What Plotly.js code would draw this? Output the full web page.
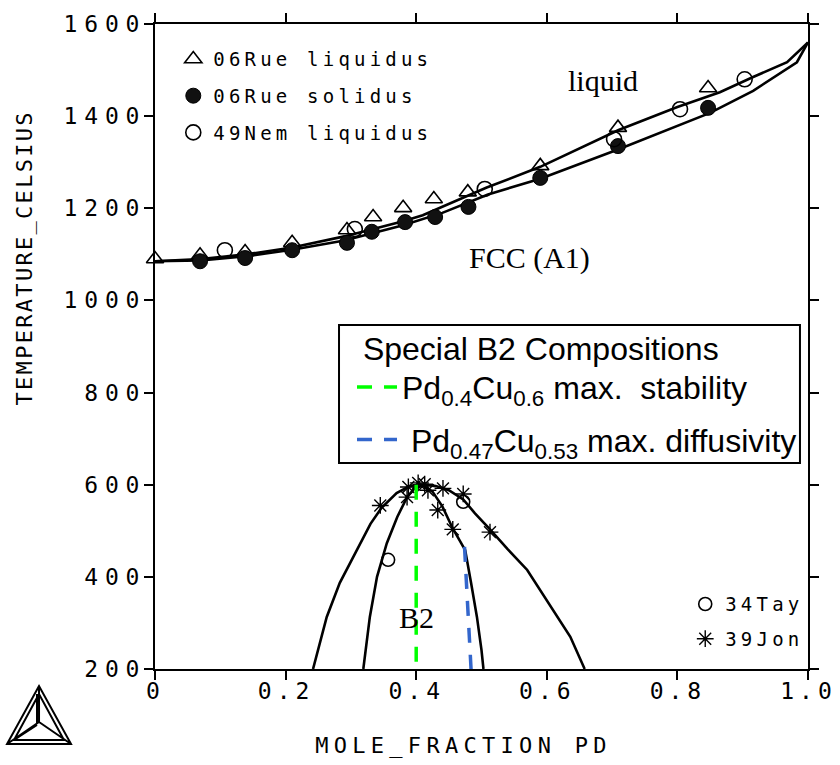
<!DOCTYPE html>
<html><head><meta charset="utf-8">
<script src="https://cdn.plot.ly/plotly-3.0.1.min.js"></script>
<style>
html,body{margin:0;padding:0;background:#fff;}
.legend2 *, .legend3 * { clip-path: none !important; }
</style>
</head><body>
<div id="chart" style="width:840px;height:765px;"></div>
<script>
// ---- axis ticks ----
const xTickVals = [0, 0.2, 0.4, 0.6, 0.8, 1.0];
const xTickText = ['0', '0.2', '0.4', '0.6', '0.8', '1.0'];
const yTickVals = [200, 400, 600, 800, 1000, 1200, 1400, 1600];
const yTickText = ['200', '400', '600', '800', '1000', '1200', '1400', '1600'];

// ---- calculated phase boundaries ----
const liquidusX = [0, 0.07, 0.14, 0.21, 0.29, 0.38, 0.41, 0.46, 0.508, 0.59, 0.71, 0.80, 0.865, 0.916, 0.968, 1.0];
const liquidusT = [1085, 1090, 1100, 1115, 1139, 1172, 1185, 1215, 1245, 1290, 1370, 1420, 1452, 1485, 1517, 1560];
const solidusX = [0, 0.07, 0.14, 0.21, 0.29, 0.38, 0.44, 0.51, 0.59, 0.71, 0.85, 0.916, 0.983, 1.0];
const solidusT = [1085, 1087, 1096, 1110, 1130, 1163, 1190, 1230, 1264, 1328, 1407, 1455, 1517, 1560];
const outerB2X = [0.242, 0.263, 0.283, 0.309, 0.33, 0.347, 0.37, 0.39, 0.405, 0.43, 0.45, 0.472, 0.49, 0.513, 0.54, 0.57, 0.61, 0.636, 0.658];
const outerB2T = [200, 313, 387, 458, 515, 550, 582, 597, 601, 597, 588, 568, 538, 503, 460, 415, 328, 270, 200];
const innerB2X = [0.319, 0.329, 0.340, 0.355, 0.371, 0.386, 0.398, 0.41, 0.425, 0.44, 0.456, 0.475, 0.484, 0.493, 0.500, 0.503];
const innerB2T = [200, 313, 400, 473, 530, 573, 593, 598, 585, 553, 505, 458, 387, 313, 241, 200];

// ---- experimental data ----
const rueLiqX = [0, 0.069, 0.138, 0.21, 0.294, 0.334, 0.38, 0.427, 0.479, 0.59, 0.709, 0.847];
const rueLiqT = [1090, 1098, 1105, 1125, 1153, 1181, 1201, 1220, 1235, 1292, 1375, 1461];
const rueSolX = [0.069, 0.138, 0.21, 0.294, 0.332, 0.383, 0.429, 0.48, 0.59, 0.709, 0.847];
const rueSolT = [1085, 1092, 1109, 1125, 1149, 1170, 1181, 1203, 1266, 1335, 1418];
const nemLiqX = [0.107, 0.306, 0.505, 0.703, 0.804, 0.903];
const nemLiqT = [1109, 1155, 1242, 1350, 1415, 1480];
const tayX = [0.357, 0.472];
const tayT = [437, 563];
const jonX = [0.345, 0.386, 0.388, 0.403, 0.413, 0.418, 0.433, 0.441, 0.456, 0.472, 0.513];
const jonT = [555, 573, 595, 604, 601, 588, 545, 592, 503, 580, 497];

// ---- special B2 compositions ----
const stabX = [0.40, 0.40];
const stabT = [600, 200];
const diffX = [0.474, 0.484];
const diffT = [465, 200];

const mono = 'DejaVu Sans Mono';
const serif = 'Liberation Serif, Times New Roman, serif';
const sans = 'Liberation Sans, Arial, sans-serif';

const curveLine = {color: '#000', width: 2.6};
const traces = [
  {x: liquidusX, y: liquidusT, mode: 'lines', line: curveLine, showlegend: false, hoverinfo: 'skip'},
  {x: solidusX, y: solidusT, mode: 'lines', line: curveLine, showlegend: false, hoverinfo: 'skip'},
  {x: outerB2X, y: outerB2T, mode: 'lines', line: curveLine, showlegend: false, hoverinfo: 'skip'},
  {x: innerB2X, y: innerB2T, mode: 'lines', line: curveLine, showlegend: false, hoverinfo: 'skip'},
  {x: rueLiqX, y: rueLiqT, mode: 'markers', name: '06Rue liquidus', legend: 'legend2', legendgroup: 'a', cliponaxis: false,
   marker: {symbol: 'triangle-up-open', size: 15, color: '#000', line: {width: 1.6, color: '#000'}}},
  {x: rueSolX, y: rueSolT, mode: 'markers', name: '06Rue solidus', legend: 'legend2', legendgroup: 'b', cliponaxis: false,
   marker: {symbol: 'circle', size: 15, color: '#111', line: {width: 1, color: '#000'}}},
  {x: nemLiqX, y: nemLiqT, mode: 'markers', name: '49Nem liquidus', legend: 'legend2', legendgroup: 'c', cliponaxis: false,
   marker: {symbol: 'circle-open', size: 15, color: '#000', line: {width: 1.6, color: '#000'}}},
  {x: tayX, y: tayT, mode: 'markers', name: '34Tay', legend: 'legend3', legendgroup: 'd', cliponaxis: false,
   marker: {symbol: 'circle-open', size: 13, color: '#000', line: {width: 1.6, color: '#000'}}},
  {x: jonX, y: jonT, mode: 'markers', name: '39Jon', legend: 'legend3', legendgroup: 'e', cliponaxis: false,
   marker: {symbol: 'asterisk-open', size: 14, color: '#000', line: {width: 1.4, color: '#000'}}},
  {x: stabX, y: stabT, mode: 'lines', name: 'Pd<sub>0.4</sub>Cu<sub>0.6</sub> max.\u00a0 stability', legend: 'legend', legendgroup: 'f',
   line: {color: '#00ff00', width: 3.5, dash: '15px,12px'}},
  {x: diffX, y: diffT, mode: 'lines', name: '\u00a0Pd<sub>0.47</sub>Cu<sub>0.53</sub> max. diffusivity', legend: 'legend', legendgroup: 'g',
   line: {color: '#3366cc', width: 3.5, dash: '15px,12px'}}
];

// pixel -> paper helper for decorations only (logo, legend frame)
const PL = 155, PW = 653, PB = 669, PH = 645;
function P(px, py) { return ((px - PL) / PW).toFixed(4) + ',' + ((PB - py) / PH).toFixed(4); }
const logoPath =
  'M' + P(39, 686) + 'L' + P(7, 744) + 'L' + P(71, 744) + 'Z ' +
  'M' + P(39, 694) + 'L' + P(14, 740) + 'L' + P(64, 740) + 'Z ' +
  'M' + P(39, 686) + 'L' + P(39, 722) + ' M' + P(7, 744) + 'L' + P(39, 722) + ' M' + P(71, 744) + 'L' + P(39, 722) +
  ' M' + P(37, 694) + 'L' + P(37, 724) + ' M' + P(14, 740) + 'L' + P(37, 725);

const layout = {
  width: 840, height: 765,
  margin: {l: 155, r: 32, t: 24, b: 96},
  paper_bgcolor: '#fff', plot_bgcolor: '#fff',
  showlegend: true,
  font: {family: mono, color: '#000', size: 18},
  xaxis: {
    range: [0, 1], tickvals: xTickVals, ticktext: xTickText,
    showgrid: false, zeroline: false, showline: true, linecolor: '#000', linewidth: 2, mirror: 'ticks',
    ticks: 'outside', ticklen: 9, tickwidth: 2, tickcolor: '#000', ticklabelstandoff: -4,
    tickfont: {family: mono, size: 23, color: '#000'},
    title: {text: 'MOLE_FRACTION PD', font: {family: mono, size: 22, color: '#000'}, standoff: 30}
  },
  yaxis: {
    range: [200, 1600], tickvals: yTickVals, ticktext: yTickText,
    showgrid: false, zeroline: false, showline: true, linecolor: '#000', linewidth: 2, mirror: 'ticks',
    ticks: 'outside', ticklen: 9, tickwidth: 2, tickcolor: '#000',
    tickfont: {family: mono, size: 23, color: '#000'}
  },
  legend: {
    x: 0.3017, y: 0.5442, xanchor: 'left', yanchor: 'top',
    bgcolor: 'rgba(0,0,0,0)', borderwidth: 0,
    font: {family: sans, size: 32, color: '#000'},
    title: {text: '\u00a0Special B2 Compositions', font: {family: sans, size: 32, color: '#000'}},
    traceorder: 'grouped', tracegroupgap: 8, itemwidth: 40
  },
  legend2: {
    x: 0.028, y: 0.975, xanchor: 'left', yanchor: 'top',
    bgcolor: 'rgba(0,0,0,0)', borderwidth: 0,
    font: {family: mono, size: 19, color: '#000'},
    traceorder: 'grouped', tracegroupgap: 9, itemwidth: 30
  },
  legend3: {
    x: 0.812, y: 0.13, xanchor: 'left', yanchor: 'top',
    bgcolor: 'rgba(0,0,0,0)', borderwidth: 0,
    font: {family: mono, size: 19, color: '#000'},
    traceorder: 'grouped', tracegroupgap: 7, itemwidth: 30
  },
  annotations: [
    {text: 'TEMPERATURE_CELSIUS', xref: 'paper', yref: 'paper', x: -0.199, y: 0.636, textangle: -90,
     showarrow: false, xanchor: 'center', yanchor: 'middle', font: {family: mono, size: 22, color: '#000'}},
    {text: 'liquid', x: 0.686, y: 1478, showarrow: false, font: {family: serif, size: 30, color: '#000'}},
    {text: 'FCC (A1)', x: 0.574, y: 1092, showarrow: false, font: {family: serif, size: 30, color: '#000'}},
    {text: 'B2', x: 0.401, y: 311, showarrow: false, font: {family: serif, size: 30, color: '#000'}}
  ],
  shapes: [
    {type: 'path', xref: 'paper', yref: 'paper', path: logoPath, line: {color: '#000', width: 2}},
    {type: 'rect', xref: 'paper', yref: 'paper', x0: 0.2818, x1: 0.9877, y0: 0.3194, y1: 0.5333,
     line: {color: '#000', width: 2}, fillcolor: '#fff'}
  ]
};

const spacingRules = {
  '06Rue liquidus': [4.2, null], '06Rue solidus': [4.2, null], '49Nem liquidus': [4.2, null],
  '34Tay': [4.2, null], '39Jon': [4.2, null],
  'TEMPERATURE_CELSIUS': [2.3, 1.2],
  'MOLE_FRACTION PD': [5.3, -18]
};
function applySpacing(gd) {
  function sp(t, px, dx) {
    if (t.style.letterSpacing !== px + 'px') t.style.letterSpacing = px + 'px';
    if (dx !== null && t.getAttribute('dx') !== dx.toFixed(1)) t.setAttribute('dx', dx.toFixed(1));
  }
  Array.prototype.forEach.call(gd.querySelectorAll('.xtick text'), function (t) {
    sp(t, 5, 0.5);
    if (!t.hasAttribute('data-dy0')) {
      var d = t.getAttribute('dy') || '0';
      t.setAttribute('data-dy0', d);
      var base = /em$/.test(d) ? parseFloat(d) * 23 : (parseFloat(d) || 0);
      t.setAttribute('dy', (base - 5).toFixed(1));
    }
  });
  Array.prototype.forEach.call(gd.querySelectorAll('.ytick text'), function (t) { sp(t, 6.8, 6.8); });
  Array.prototype.forEach.call(gd.querySelectorAll('text'), function (t) {
    var key = t.textContent.replace(/\u00a0/g, ' ');
    var r = spacingRules[key];
    if (r) sp(t, r[0], r[1]);
  });
  Array.prototype.forEach.call(gd.querySelectorAll('.legend2 [clip-path], .legend3 [clip-path]'), function (el) {
    el.removeAttribute('clip-path');
  });
}

Plotly.newPlot('chart', traces, layout, {displayModeBar: false, staticPlot: true}).then(function (gd) {
  applySpacing(gd);
  var obs = new MutationObserver(function () { applySpacing(gd); });
  obs.observe(gd, {childList: true, subtree: true, characterData: true});
  setTimeout(function () { applySpacing(gd); }, 30);
  setTimeout(function () { applySpacing(gd); }, 200);
  setTimeout(function () { applySpacing(gd); }, 600);
});
</script>
</body></html>
